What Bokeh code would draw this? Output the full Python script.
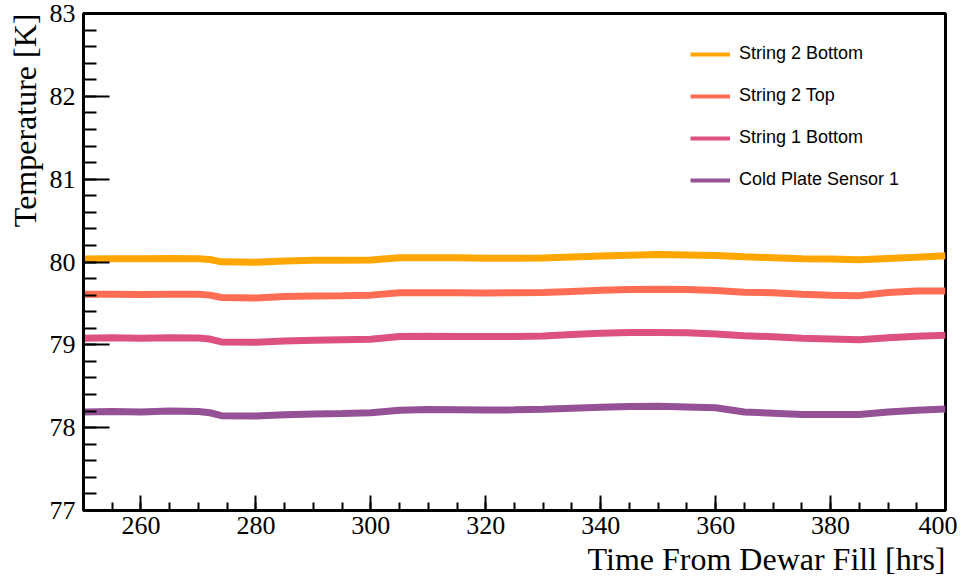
from bokeh.plotting import figure
from bokeh.models import Range1d, SingleIntervalTicker, Legend, LegendItem, Title
from bokeh.embed import file_html
from bokeh.resources import INLINE

hours = [250, 255, 260, 265, 270, 272, 274, 280, 285, 290, 295, 300, 305, 310, 315, 320,
         325, 330, 335, 340, 345, 350, 355, 360, 365, 370, 375, 380, 385, 390, 395, 400]

string2_bottom = [80.036, 80.040, 80.038, 80.042, 80.040, 80.030, 80.002, 79.996, 80.012, 80.020,
                  80.020, 80.025, 80.050, 80.052, 80.050, 80.046, 80.046, 80.048, 80.060, 80.072,
                  80.082, 80.090, 80.085, 80.078, 80.062, 80.052, 80.040, 80.036, 80.026, 80.042,
                  80.058, 80.075]
string2_top = [79.610, 79.612, 79.608, 79.612, 79.610, 79.600, 79.572, 79.566, 79.584, 79.590,
               79.594, 79.600, 79.628, 79.630, 79.628, 79.626, 79.628, 79.632, 79.645, 79.658,
               79.668, 79.672, 79.668, 79.655, 79.636, 79.628, 79.610, 79.600, 79.594, 79.632,
               79.650, 79.650]
string1_bottom = [79.080, 79.085, 79.080, 79.085, 79.082, 79.070, 79.035, 79.030, 79.045, 79.055,
                  79.062, 79.068, 79.100, 79.105, 79.100, 79.100, 79.102, 79.108, 79.125, 79.140,
                  79.150, 79.150, 79.145, 79.130, 79.110, 79.098, 79.080, 79.070, 79.060, 79.085,
                  79.105, 79.115]
cold_plate_1 = [78.190, 78.195, 78.190, 78.200, 78.195, 78.180, 78.145, 78.140, 78.155, 78.165,
                78.172, 78.180, 78.210, 78.218, 78.215, 78.212, 78.215, 78.222, 78.235, 78.245,
                78.255, 78.258, 78.250, 78.240, 78.190, 78.175, 78.160, 78.158, 78.160, 78.190,
                78.210, 78.225]

series_names = ["String 2 Bottom", "String 2 Top", "String 1 Bottom", "Cold Plate Sensor 1"]
series_values = [string2_bottom, string2_top, string1_bottom, cold_plate_1]
series_colors = ["#ffa600", "#ff6e54", "#dd5182", "#955196"]

p = figure(width=957, height=578, output_backend="svg", toolbar_location=None,
           x_range=Range1d(250, 400), y_range=Range1d(77, 83),
           min_border_left=81, min_border_right=12, min_border_top=13, min_border_bottom=67)
p.background_fill_color = "white"
p.border_fill_color = "white"
p.outline_line_color = "black"
p.outline_line_width = 3
p.xgrid.visible = False
p.ygrid.visible = False

items = []
for name, vals, col in zip(series_names, series_values, series_colors):
    p.line(hours, vals, line_color=col, line_width=7)
    dummy = p.line(x=[230, 231], y=[70, 70], line_color=col, line_width=4)
    items.append(LegendItem(label=name, renderers=[dummy]))

legend = Legend(items=items, location=(607, 320), border_line_color=None,
                background_fill_alpha=0, padding=0, margin=0, spacing=21,
                glyph_width=40, glyph_height=20, label_height=20, label_standoff=9,
                label_text_font="Liberation Sans", label_text_font_size="18px",
                label_text_color="black")
p.add_layout(legend, "center")

for ax in (p.xaxis[0], p.yaxis[0]):
    ax.axis_line_width = 3
    ax.axis_line_color = "black"
    ax.major_tick_line_width = 2
    ax.minor_tick_line_width = 2
    ax.major_tick_out = 0
    ax.minor_tick_out = 0
    ax.major_label_text_font = "Liberation Serif"
    ax.major_label_text_font_size = "26px"
    ax.major_label_text_color = "black"

p.xaxis.major_label_standoff = 6
p.yaxis.major_label_standoff = 8
p.xaxis.ticker = SingleIntervalTicker(interval=20, num_minor_ticks=4)
p.yaxis.ticker = SingleIntervalTicker(interval=1, num_minor_ticks=5)
p.xaxis.major_tick_in = 15
p.xaxis.minor_tick_in = 8
p.yaxis.major_tick_in = 26
p.yaxis.minor_tick_in = 13

p.add_layout(Title(text="Time From Dewar Fill [hrs]", align="right", text_font="Liberation Serif",
                   text_font_size="32px", text_font_style="normal", text_color="black",
                   standoff=4), "below")
p.add_layout(Title(text="Temperature [K]", align="right", text_font="Liberation Serif",
                   text_font_size="32px", text_font_style="normal", text_color="black",
                   standoff=8), "left")

open("out.html", "w").write(file_html(p, INLINE))
